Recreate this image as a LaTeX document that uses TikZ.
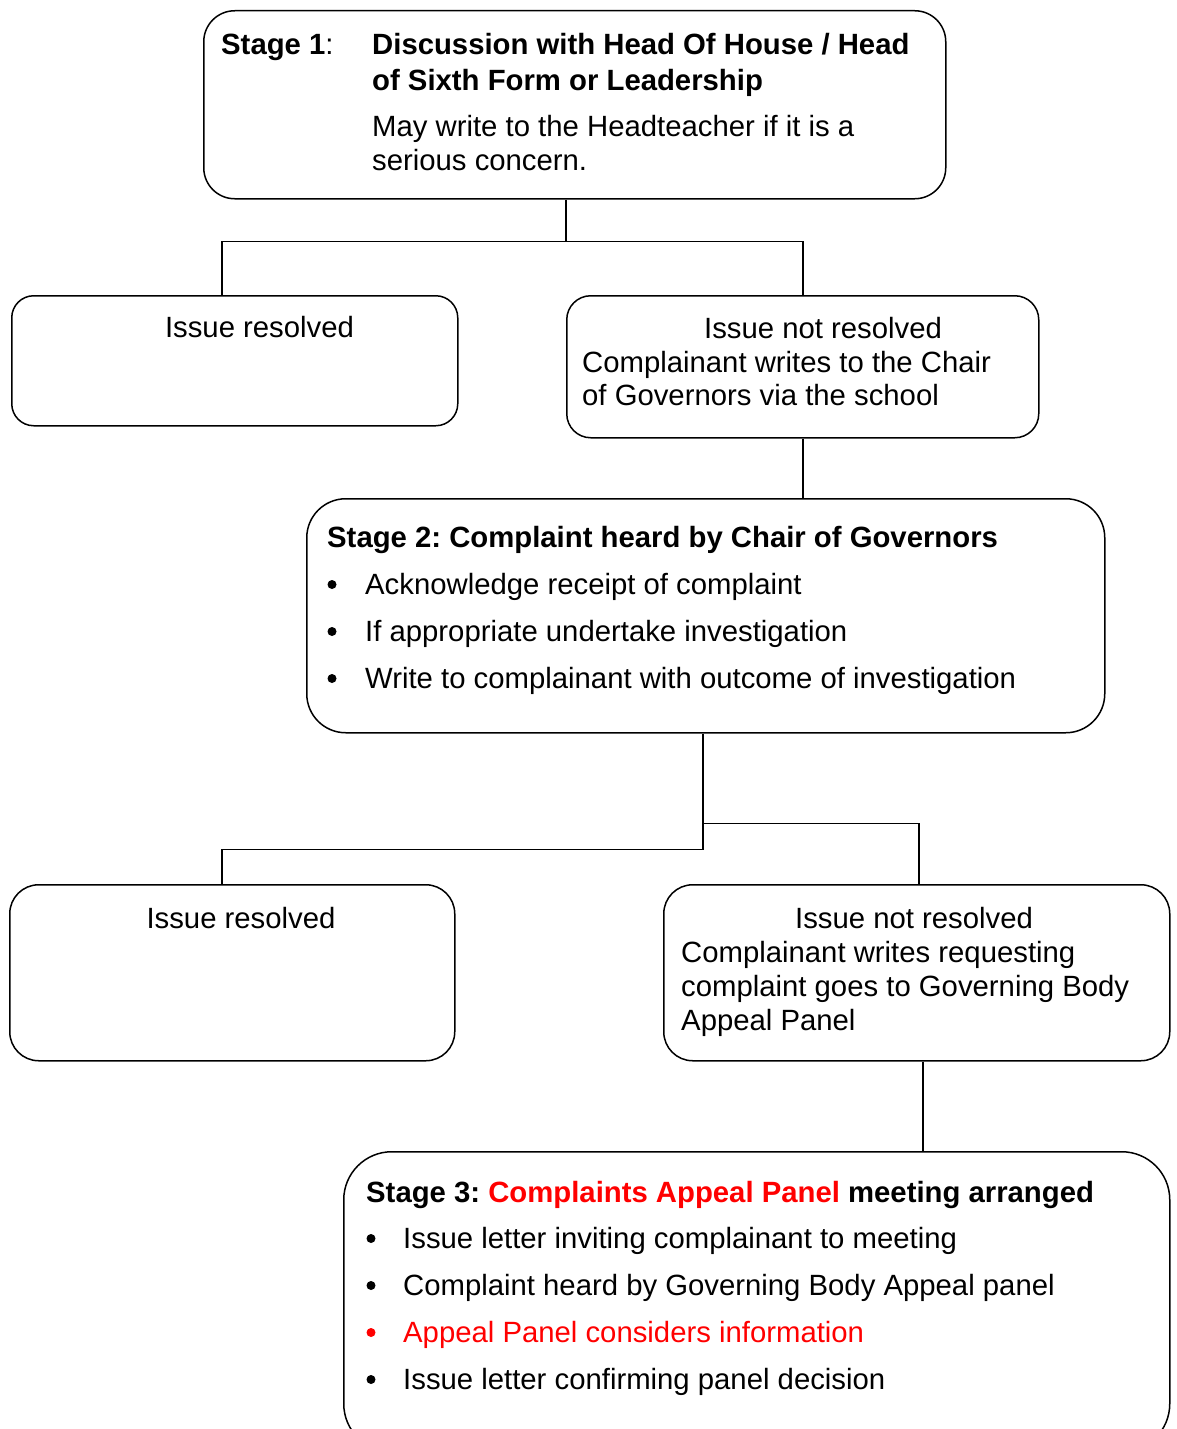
\documentclass[tikz,border=0pt]{standalone}
\usepackage{fontspec}
\setmainfont{Liberation Sans}
\frenchspacing

\tikzset{
  stagebox/.style={draw, line width=1.5pt, rounded corners=#1, anchor=north west, inner sep=0pt},
  txt/.style={anchor=base west, inner sep=0pt},
  ctxt/.style={anchor=base, inner sep=0pt},
  dot/.style={circle, fill, inner sep=0pt, minimum size=9pt},
  link/.style={line width=1.5pt}
}

\begin{document}
\begin{tikzpicture}[x=1pt,y=-1pt,font=\fontsize{29.3}{34}\selectfont]

\useasboundingbox (0,0) rectangle (1176,1429);
\clip (0,0) rectangle (1176,1429);

\node[stagebox=31, minimum width=742, minimum height=188] (s1) at (203,10) {};
\node[stagebox=22, minimum width=446, minimum height=130] (r1) at (11,295) {};
\node[stagebox=24, minimum width=472, minimum height=142] (n1) at (566,295) {};
\node[stagebox=39, minimum width=798, minimum height=234] (s2) at (306,498) {};
\node[stagebox=29, minimum width=445, minimum height=176] (r2) at (9,884) {};
\node[stagebox=29, minimum width=506, minimum height=176] (n2) at (663,884) {};
\node[stagebox=48, minimum width=826, minimum height=300] (s3) at (343,1151) {};

\node[txt] (s1a) at (221,55) {\textbf{Stage 1}:};
\node[txt] (s1b) at (372,55) {\textbf{Discussion with Head Of House / Head}};
\node[txt] (s1c) at (372,90) {\textbf{of Sixth Form or Leadership}};
\node[txt] (s1d) at (372,136) {May write to the Headteacher if it is a};
\node[txt] (s1e) at (372,170) {serious concern.};

\node[ctxt] (r1a) at (259.5,337) {Issue resolved};

\node[ctxt] (n1a) at (823,338) {Issue not resolved};
\node[txt] (n1b) at (582,372) {Complainant writes to the Chair};
\node[txt] (n1c) at (582,405) {of Governors via the school};

\node[txt] (s2a) at (327,547) {\textbf{Stage 2: Complaint heard by Chair of Governors}};
\node[dot] (s2b) at (332,584.5) {};
\node[txt] (s2c) at (365,594) {Acknowledge receipt of complaint};
\node[dot] (s2d) at (332,631.5) {};
\node[txt] (s2e) at (365,641) {If appropriate undertake investigation};
\node[dot] (s2f) at (332,678.5) {};
\node[txt] (s2g) at (365,688) {Write to complainant with outcome of investigation};

\node[ctxt] (r2a) at (241,928) {Issue resolved};

\node[ctxt] (n2a) at (914,928) {Issue not resolved};
\node[txt] (n2b) at (681,962) {Complainant writes requesting};
\node[txt] (n2c) at (681,996) {complaint goes to Governing Body};
\node[txt] (n2d) at (681,1030) {Appeal Panel};

\node[txt] (s3a) at (366,1202) {\textbf{Stage 3: \textcolor{red}{Complaints Appeal Panel} meeting arranged}};
\node[dot] (s3b) at (371,1238.5) {};
\node[txt] (s3c) at (403,1248) {Issue letter inviting complainant to meeting};
\node[dot] (s3d) at (371,1285.5) {};
\node[txt] (s3e) at (403,1295) {Complaint heard by Governing Body Appeal panel};
\node[dot, red] (s3f) at (371,1332.5) {};
\node[txt, red] (s3g) at (403,1342) {Appeal Panel considers information};
\node[dot] (s3h) at (371,1379.5) {};
\node[txt] (s3i) at (403,1389) {Issue letter confirming panel decision};

\draw[link] ([xshift=-9pt]s1.south) -- ++(0,42) -| ([xshift=-13pt]r1.north);
\draw[link] ([xshift=-9pt]s1.south) ++(0,42) -| (n1.north);

\draw[link] (n1.south) -- (n1.south |- s2.north);

\draw[link] ([xshift=-3pt]s2.south) -- ++(0,116) -| ([xshift=-10.5pt]r2.north);
\draw[link] ([xshift=-3pt]s2.south) ++(0,90) -| ([xshift=2pt]n2.north);

\draw[link] ([xshift=6pt]n2.south) -- ([xshift=6pt]n2.south |- s3.north);

\end{tikzpicture}
\end{document}
